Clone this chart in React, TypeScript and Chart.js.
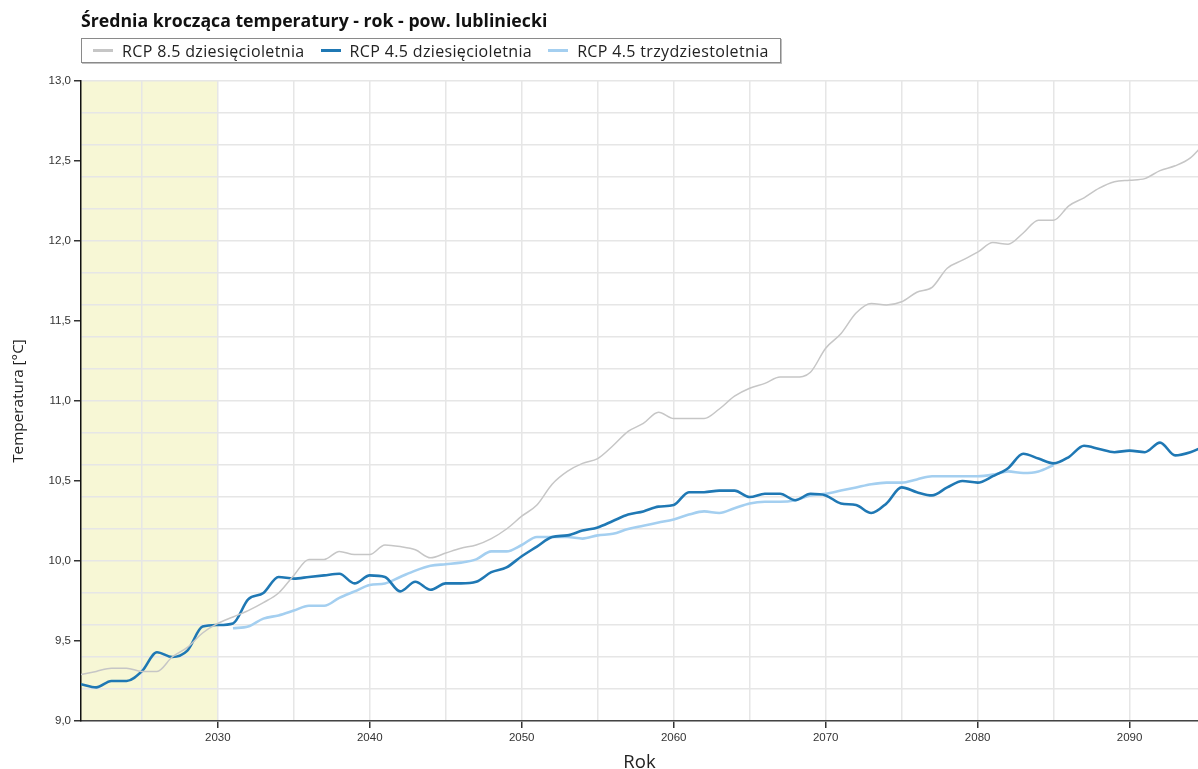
import React, { useEffect, useRef } from 'react';
import { Chart, registerables } from 'chart.js';

Chart.register(...registerables);

const TITLE = 'Średnia krocząca temperatury - rok - pow. lubliniecki';
const X_TITLE = 'Rok';
const Y_TITLE = 'Temperatura [°C]';

const SERIES_LABELS = ['RCP 8.5 dziesięcioletnia', 'RCP 4.5 dziesięcioletnia', 'RCP 4.5 trzydziestoletnia'];
const SERIES_COLORS = ['#c6c6c6', '#1f78b4', '#a4cff0'];
const SERIES_WIDTHS = [1.5, 2.6, 2.6];

const YEARS_DECADAL = [
  2021, 2022, 2023, 2024, 2025, 2026, 2027, 2028, 2029, 2030,
  2031, 2032, 2033, 2034, 2035, 2036, 2037, 2038, 2039, 2040,
  2041, 2042, 2043, 2044, 2045, 2046, 2047, 2048, 2049, 2050,
  2051, 2052, 2053, 2054, 2055, 2056, 2057, 2058, 2059, 2060,
  2061, 2062, 2063, 2064, 2065, 2066, 2067, 2068, 2069, 2070,
  2071, 2072, 2073, 2074, 2075, 2076, 2077, 2078, 2079, 2080,
  2081, 2082, 2083, 2084, 2085, 2086, 2087, 2088, 2089, 2090,
  2091, 2092, 2093, 2094, 2095,
];

const RCP85_DECADAL = [
  9.29, 9.31, 9.33, 9.33, 9.31, 9.31, 9.40, 9.46, 9.55, 9.61,
  9.65, 9.69, 9.74, 9.80, 9.91, 10.01, 10.01, 10.06, 10.04, 10.04,
  10.10, 10.09, 10.07, 10.02, 10.05, 10.08, 10.10, 10.14, 10.20, 10.28,
  10.35, 10.48, 10.56, 10.61, 10.64, 10.72, 10.81, 10.86, 10.93, 10.89,
  10.89, 10.89, 10.95, 11.03, 11.08, 11.11, 11.15, 11.15, 11.18, 11.33,
  11.42, 11.55, 11.61, 11.60, 11.62, 11.68, 11.71, 11.83, 11.88, 11.93,
  11.99, 11.98, 12.05, 12.13, 12.13, 12.22, 12.27, 12.33, 12.37, 12.38,
  12.39, 12.44, 12.47, 12.52, 12.62,
];

const RCP45_DECADAL = [
  9.23, 9.21, 9.25, 9.25, 9.31, 9.43, 9.40, 9.44, 9.59, 9.60,
  9.61, 9.76, 9.80, 9.90, 9.89, 9.90, 9.91, 9.92, 9.86, 9.91,
  9.90, 9.81, 9.87, 9.82, 9.86, 9.86, 9.87, 9.93, 9.96, 10.03,
  10.09, 10.15, 10.16, 10.19, 10.21, 10.25, 10.29, 10.31, 10.34, 10.35,
  10.43, 10.43, 10.44, 10.44, 10.40, 10.42, 10.42, 10.38, 10.42, 10.41,
  10.36, 10.35, 10.30, 10.36, 10.46, 10.43, 10.41, 10.46, 10.50, 10.49,
  10.53, 10.58, 10.67, 10.64, 10.61, 10.65, 10.72, 10.70, 10.68, 10.69,
  10.68, 10.74, 10.66, 10.68, 10.72,
];

const YEARS_THIRTY = [
  2031, 2032, 2033, 2034, 2035, 2036, 2037, 2038, 2039, 2040,
  2041, 2042, 2043, 2044, 2045, 2046, 2047, 2048, 2049, 2050,
  2051, 2052, 2053, 2054, 2055, 2056, 2057, 2058, 2059, 2060,
  2061, 2062, 2063, 2064, 2065, 2066, 2067, 2068, 2069, 2070,
  2071, 2072, 2073, 2074, 2075, 2076, 2077, 2078, 2079, 2080,
  2081, 2082, 2083, 2084, 2085,
];

const RCP45_THIRTY = [
  9.58, 9.59, 9.64, 9.66, 9.69, 9.72, 9.72, 9.77, 9.81, 9.85,
  9.86, 9.90, 9.94, 9.97, 9.98, 9.99, 10.01, 10.06, 10.06, 10.10,
  10.15, 10.15, 10.15, 10.14, 10.16, 10.17, 10.20, 10.22, 10.24, 10.26,
  10.29, 10.31, 10.30, 10.33, 10.36, 10.37, 10.37, 10.38, 10.41, 10.42,
  10.44, 10.46, 10.48, 10.49, 10.49, 10.51, 10.53, 10.53, 10.53, 10.53,
  10.54, 10.56, 10.55, 10.56, 10.60,
];

const X_MIN = 2021;
const X_MAX = 2094.5;
const Y_MIN = 9;
const Y_MAX = 13;
const REFERENCE_START = 2021;
const REFERENCE_END = 2030;

const GRID = '#e6e6e6';
const BAND = '#f7f7d5';
const TEXT_FONT = '"Open Sans", Lato, sans-serif';

const isMult = (v: number, m: number) => Math.abs(Math.round(v / m) * m - v) < 1e-6;

const toPoints = (xs: number[], ys: number[]) => xs.map((x, i) => ({ x, y: ys[i] }));

const bandPlugin = {
  id: 'referenceBand',
  beforeDraw(chart: any) {
    const { ctx, chartArea, scales } = chart;
    const x0 = Math.max(scales.x.getPixelForValue(REFERENCE_START), chartArea.left);
    const x1 = scales.x.getPixelForValue(REFERENCE_END);
    ctx.save();
    ctx.fillStyle = BAND;
    ctx.fillRect(x0, chartArea.top, x1 - x0, chartArea.bottom - chartArea.top);
    ctx.restore();
  },
};

export default function App() {
  const ref = useRef<HTMLCanvasElement>(null);

  useEffect(() => {
    const canvas = ref.current;
    if (!canvas) return;
    const seriesData = [
      toPoints(YEARS_DECADAL, RCP85_DECADAL),
      toPoints(YEARS_DECADAL, RCP45_DECADAL),
      toPoints(YEARS_THIRTY, RCP45_THIRTY),
    ];
    const chart = new Chart(canvas, {
      type: 'line',
      data: {
        datasets: seriesData.map((data, i) => ({
          label: SERIES_LABELS[i],
          data,
          borderColor: SERIES_COLORS[i],
          backgroundColor: SERIES_COLORS[i],
          borderWidth: SERIES_WIDTHS[i],
          pointRadius: 0,
          cubicInterpolationMode: 'monotone' as const,
          fill: false,
        })),
      },
      options: {
        responsive: false,
        animation: false,
        devicePixelRatio: 1,
        layout: { padding: { top: 81, left: 0, right: 0, bottom: 0 } },
        plugins: {
          legend: { display: false },
          title: { display: false },
          tooltip: { enabled: false },
        },
        scales: {
          x: {
            type: 'linear',
            min: X_MIN,
            max: X_MAX,
            afterFit: (scale: any) => {
              scale.height = 48;
            },
            border: { display: true, color: '#444', width: 1.5 },
            grid: {
              color: (ctx: any) => (isMult(ctx.tick.value, 5) ? GRID : 'transparent'),
              lineWidth: 1.5,
              drawTicks: true,
              tickLength: 7,
              tickWidth: 1.5,
              tickColor: (ctx: any) => (isMult(ctx.tick.value, 10) ? '#333' : 'transparent'),
            },
            ticks: {
              stepSize: 5,
              includeBounds: false,
              autoSkip: false,
              maxRotation: 0,
              padding: 3,
              color: '#333',
              font: { family: 'Liberation Sans', size: 11.5 },
              callback: (v: any) => (isMult(Number(v), 10) ? String(Math.round(Number(v))) : ''),
            },
            title: {
              display: true,
              text: X_TITLE,
              color: '#222',
              font: { family: TEXT_FONT, size: 18.5, lineHeight: 1 },
              padding: { top: 0, bottom: -2.5 },
            },
          },
          y: {
            type: 'linear',
            min: Y_MIN,
            max: Y_MAX,
            afterFit: (scale: any) => {
              scale.width = 81;
            },
            border: { display: true, color: '#111', width: 1.5 },
            grid: {
              color: (ctx: any) => (isMult(ctx.tick.value, 0.2) ? GRID : 'transparent'),
              lineWidth: 1.5,
              drawTicks: true,
              tickLength: 7,
              tickWidth: 1.5,
              tickColor: (ctx: any) => (isMult(ctx.tick.value, 0.5) ? '#333' : 'transparent'),
            },
            ticks: {
              stepSize: 0.1,
              autoSkip: false,
              padding: 3,
              color: '#333',
              font: { family: 'Liberation Sans', size: 11.5 },
              callback: (v: any) => (isMult(Number(v), 0.5) ? Number(v).toFixed(1).replace('.', ',') : ''),
            },
            title: {
              display: true,
              text: Y_TITLE,
              color: '#222',
              font: { family: TEXT_FONT, size: 15.3, lineHeight: 1.2 },
              padding: { top: 9, bottom: 0 },
            },
          },
        },
      },
      plugins: [bandPlugin],
    } as any);
    return () => chart.destroy();
  }, []);

  return (
    <div
      style={{
        position: 'fixed',
        left: 0,
        top: 0,
        width: 1198,
        height: 769,
        background: '#fff',
        fontFamily: TEXT_FONT,
        color: '#222',
        overflow: 'hidden',
      }}
    >
      <canvas ref={ref} width={1198} height={769} style={{ position: 'absolute', left: 0, top: 0, width: 1198, height: 769 }} />
      <div
        style={{
          position: 'absolute',
          left: 81,
          top: 11,
          fontWeight: 700,
          fontSize: 17.7,
          lineHeight: '18px',
          color: '#111',
          whiteSpace: 'nowrap',
        }}
      >
        {TITLE}
      </div>
      <div
        style={{
          position: 'absolute',
          left: 81,
          top: 38,
          height: 25,
          boxSizing: 'border-box',
          border: '1px solid #8a8a8a',
          boxShadow: '1px 1px 0 #c0c0c0',
          display: 'flex',
          alignItems: 'center',
          padding: '0 11px',
          fontSize: 16,
          letterSpacing: '0.35px',
          whiteSpace: 'nowrap',
          background: '#fff',
        }}
      >
        {SERIES_LABELS.map((label, i) => (
          <div key={label} style={{ display: 'flex', alignItems: 'center', marginRight: i < SERIES_LABELS.length - 1 ? 16 : 0 }}>
            <span style={{ display: 'inline-block', width: 20, height: 3, background: SERIES_COLORS[i], marginRight: 9 }} />
            <span>{label}</span>
          </div>
        ))}
      </div>
    </div>
  );
}
